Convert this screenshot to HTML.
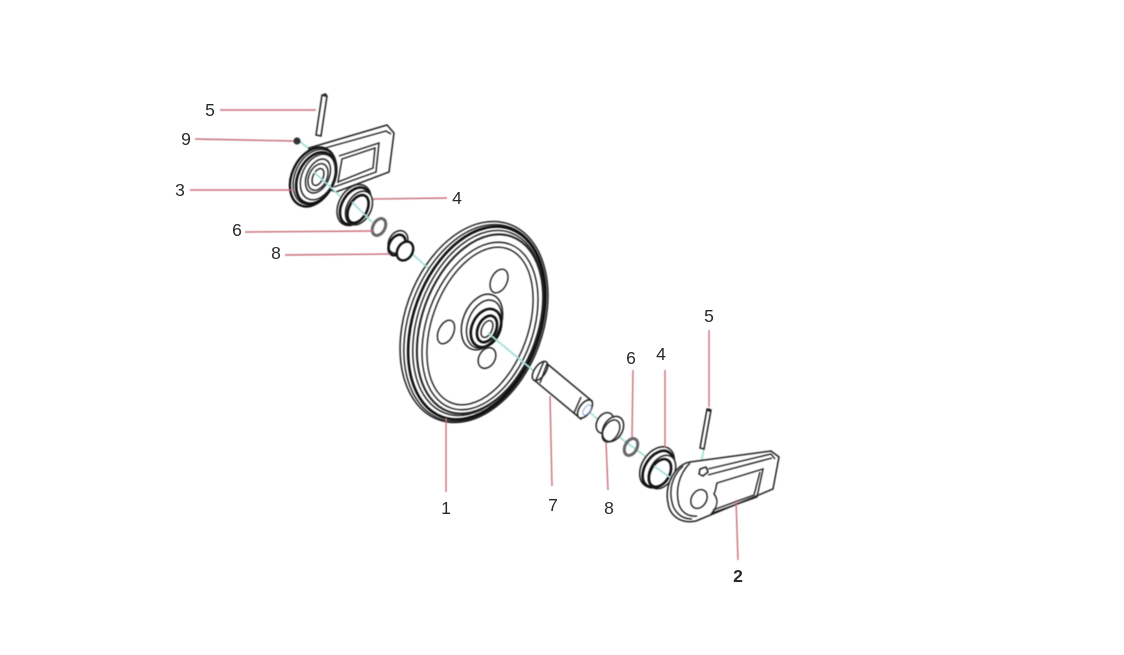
<!DOCTYPE html>
<html><head><meta charset="utf-8"><style>
html,body{margin:0;padding:0;background:#fff;width:1124px;height:655px;overflow:hidden}
svg{display:block}
.b{filter:blur(.45px)}
text{font-family:"Liberation Sans",sans-serif;font-size:17.5px;fill:#2a2a2a;text-anchor:middle}
.r{stroke:#c9707a;stroke-width:1.4;fill:none}
.c{stroke:#a5e0da;stroke-width:1.8;fill:none}
.k{stroke:#222;fill:#fff;stroke-width:1.5}
.n{stroke:#222;fill:none;stroke-width:1.4}
.h{stroke:#111;fill:none;stroke-width:2.6}
</style></head><body>
<svg width="1124" height="655" viewBox="0 0 1124 655" xmlns="http://www.w3.org/2000/svg">
<g class="b">
<!-- wheel -->
<ellipse class="k" cx="474" cy="322" rx="69" ry="104" transform="rotate(20 474 322)"/>
<ellipse class="n" cx="475" cy="323" rx="66" ry="102" transform="rotate(20 475 323)"/>
<ellipse class="h" cx="476.5" cy="323" rx="63" ry="100" transform="rotate(20 476.5 323)"/>
<ellipse class="n" cx="478" cy="323" rx="60" ry="96" transform="rotate(20 478 323)"/>
<ellipse class="n" cx="480" cy="324" rx="58" ry="93" style="stroke-width:2" transform="rotate(20 480 324)"/>
<ellipse class="n" cx="480" cy="326" rx="53" ry="87" transform="rotate(20 480 326)"/>
<ellipse class="n" cx="480" cy="326" rx="48" ry="82" transform="rotate(20 480 326)"/>
<ellipse class="n" cx="499" cy="281" rx="8" ry="12.5" transform="rotate(25 499 281)"/>
<ellipse class="n" cx="446" cy="332" rx="7.5" ry="12.5" transform="rotate(25 446 332)"/>
<ellipse class="n" cx="487" cy="358" rx="8" ry="11" transform="rotate(30 487 358)"/>
<ellipse class="k" cx="482" cy="322" rx="19" ry="29" transform="rotate(22 482 322)"/>
<ellipse class="n" cx="484" cy="324" rx="16" ry="25" transform="rotate(22 484 324)"/>
<ellipse class="h" cx="486" cy="328" rx="14" ry="20" transform="rotate(25 486 328)"/>
<ellipse class="h" cx="487" cy="329" rx="9" ry="14" transform="rotate(25 487 329)"/>
<ellipse class="n" cx="487" cy="329" rx="5" ry="9" transform="rotate(25 487 329)"/>

<!-- centre lines -->
<line class="c" x1="298" y1="140" x2="318" y2="156"/>
<line class="c" x1="410" y1="252" x2="428" y2="268"/>
<line class="c" x1="488" y1="333" x2="535" y2="372"/>
<line class="c" x1="586" y1="409" x2="602" y2="423"/>
<line class="c" x1="618" y1="436" x2="680" y2="482"/>
<line class="c" x1="704" y1="448" x2="700" y2="470"/>

<!-- top left bracket -->
<path class="k" d="M309 148L387 125L394 133L389 172L336 192L318 185Z"/>
<path class="n" d="M318 150L386 131L391 134"/>
<path class="n" d="M339 156L379 143L376 172L334 187"/>
<path class="n" d="M342 159L375 148L373 168L338 182Z"/>
<ellipse cx="313" cy="177" rx="21" ry="31" transform="rotate(25 313 177)" fill="#fff" stroke="#111" stroke-width="2.4"/>
<ellipse class="n" cx="315" cy="177" rx="20" ry="29" transform="rotate(25 315 177)"/>
<ellipse class="h" cx="316" cy="178" rx="18" ry="27" transform="rotate(25 316 178)"/>
<ellipse class="n" cx="318" cy="177" rx="16" ry="24" transform="rotate(25 318 177)"/>
<ellipse class="n" cx="318" cy="176" rx="11" ry="18" transform="rotate(25 318 176)"/>
<ellipse class="n" cx="318" cy="177" rx="9" ry="14" transform="rotate(25 318 177)"/>
<ellipse class="n" cx="318" cy="177" rx="5" ry="9" transform="rotate(25 318 177)"/>
<line class="c" x1="314" y1="172" x2="340" y2="196"/>

<!-- pin top -->
<path class="k" d="M322 95L327 96L321 136L316 135Z"/>
<circle cx="325" cy="95" r="1.8" fill="#222"/>
<!-- nut -->
<circle cx="297" cy="141" r="3.6" fill="#333"/>

<!-- ring 4 top -->
<ellipse class="k" cx="354" cy="205" rx="15" ry="22" transform="rotate(30 354 205)"/>
<ellipse class="h" cx="355" cy="206" rx="13" ry="20" transform="rotate(30 355 206)"/>
<ellipse class="k" cx="359" cy="208" rx="12" ry="18" transform="rotate(28 359 208)"/>
<ellipse class="h" cx="358" cy="209" rx="9" ry="15" transform="rotate(28 358 209)"/>
<line class="c" x1="352" y1="202" x2="372" y2="222"/>

<!-- ring 6 top -->
<ellipse cx="379" cy="227" rx="6" ry="9" transform="rotate(28 379 227)" fill="none" stroke="#666" stroke-width="3"/>

<!-- bush 8 top -->
<ellipse class="k" cx="398" cy="242" rx="9" ry="12" transform="rotate(30 398 242)"/>
<ellipse class="h" cx="397" cy="245" rx="7.5" ry="11" transform="rotate(30 397 245)"/>
<ellipse cx="405" cy="251" rx="7.5" ry="10" transform="rotate(30 405 251)" fill="#fff" stroke="#111" stroke-width="2.4"/>

<!-- shaft 7 -->
<path class="k" d="M545 362L592 401L581 419L534 380Z"/>
<ellipse class="k" cx="540" cy="371" rx="5.5" ry="11" transform="rotate(35 540 371)"/>
<path class="n" d="M547 364L540 383"/>
<path class="n" d="M544 361L536 380"/>
<ellipse class="k" cx="585" cy="409" rx="5.5" ry="10.5" transform="rotate(35 585 409)"/>
<path class="n" d="M581 397L574 413"/>
<ellipse cx="587" cy="410" rx="3" ry="6" transform="rotate(35 587 410)" fill="none" stroke="#9ad" stroke-width="1"/>

<!-- bush 8 right -->
<ellipse class="k" cx="605" cy="423" rx="8" ry="11" transform="rotate(30 605 423)"/>
<ellipse class="k" cx="613" cy="429" rx="9.5" ry="13.5" transform="rotate(30 613 429)"/>
<ellipse class="n" cx="611" cy="431" rx="7.5" ry="12" transform="rotate(30 611 431)"/>

<!-- ring 6 right -->
<ellipse cx="631" cy="447" rx="6" ry="9" transform="rotate(28 631 447)" fill="none" stroke="#666" stroke-width="3"/>

<!-- ring 4 right -->
<ellipse class="k" cx="657" cy="467" rx="15" ry="22" transform="rotate(33 657 467)"/>
<ellipse class="h" cx="658" cy="469" rx="13" ry="20" transform="rotate(33 658 469)"/>
<ellipse class="k" cx="662" cy="472" rx="12" ry="18" transform="rotate(30 662 472)"/>
<ellipse class="h" cx="660" cy="473" rx="9.5" ry="15" transform="rotate(30 660 473)"/>
<line class="c" x1="654" y1="466" x2="682" y2="486"/>

<!-- bracket 2 -->
<path class="k" d="M690 462C676 464 664 484 668 503C670 517 682 524 696 521L773 489L779 457L771 451Z"/>
<path class="n" d="M708 469L771 454L775 459M708 475L772 458"/>
<path class="n" d="M683 466C672 476 668 490 673 506C677 515 684 519 692 519"/>
<path class="n" d="M690 463C679 474 675 490 679 505C682 513 689 517 697 516"/>
<ellipse class="n" cx="699" cy="499" rx="7.5" ry="10" transform="rotate(30 699 499)"/>
<path class="n" d="M717 483L763 469L757 497L712 513C717 507 719 500 714 494C716 490 716 486 717 483Z"/>
<path class="n" stroke-width="1.8" d="M760 472L754 495L713 510"/>
<path class="k" d="M700 469L706 467L708 472L703 476L699 474Z"/>

<!-- pin right -->
<path class="k" d="M707 409L711 410L704 449L700 448Z"/>
<circle cx="709" cy="410" r="1.6" fill="#222"/>

<!-- leaders -->
<line class="r" x1="220" y1="110" x2="316" y2="110"/>
<line class="r" x1="195" y1="139" x2="293" y2="141"/>
<line class="r" x1="190" y1="190" x2="294" y2="190"/>
<line class="r" x1="373" y1="199" x2="447" y2="198"/>
<line class="r" x1="245" y1="232" x2="373" y2="231"/>
<line class="r" x1="285" y1="255" x2="390" y2="254"/>
<line class="r" x1="446" y1="418" x2="446" y2="492"/>
<line class="r" x1="550" y1="396" x2="552" y2="486"/>
<line class="r" x1="606" y1="442" x2="608" y2="490"/>
<line class="r" x1="633" y1="370" x2="632" y2="437"/>
<line class="r" x1="665" y1="370" x2="665" y2="448"/>
<line class="r" x1="709" y1="330" x2="709" y2="407"/>
<line class="r" x1="736" y1="500" x2="738" y2="560"/>
</g>
<!-- labels -->
<text x="210" y="116">5</text>
<text x="186" y="145">9</text>
<text x="180" y="196">3</text>
<text x="457" y="204">4</text>
<text x="237" y="236">6</text>
<text x="276" y="259">8</text>
<text x="446" y="514">1</text>
<text x="553" y="511">7</text>
<text x="609" y="514">8</text>
<text x="631" y="364">6</text>
<text x="661" y="360">4</text>
<text x="709" y="322">5</text>
<text x="738" y="582" style="font-weight:bold">2</text>
</svg>
</body></html>
